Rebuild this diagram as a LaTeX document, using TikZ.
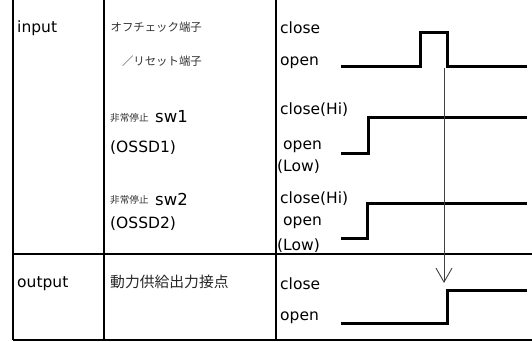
\documentclass[tikz,border=0pt]{standalone}
\usepackage{fontspec}
\setmainfont{DejaVu Sans}
\newfontfamily\jp{Noto Sans CJK JP}
\usetikzlibrary{arrows.meta}
\begin{document}
\begin{tikzpicture}[x=1pt,y=-1pt,
  grid/.style={line width=1.6pt},
  sig/.style={line width=3pt,line cap=rect,line join=miter},
  lbl/.style={anchor=west,inner sep=0pt,font=\fontsize{15.5}{17}\selectfont},
  jps/.style={anchor=west,inner sep=0pt,text=black!80,font=\jp\fontsize{11.4}{13}\selectfont},
  jpm/.style={anchor=west,inner sep=0pt,text=black!80,font=\jp\fontsize{9.6}{11}\selectfont},
  jpl/.style={anchor=west,inner sep=0pt,text=black!85,font=\jp\fontsize{14.8}{16}\selectfont},
  trig/.style={line width=0.9pt,draw=black!75,-{Straight Barb[length=14pt,width=16pt,line width=0.9pt]}}]
\useasboundingbox (0,0) rectangle (532,342);
% table lines
\draw[grid] (13,0) -- (13,340);
\draw[grid] (104,0) -- (104,340);
\draw[grid] (276,0) -- (276,340);
\draw[grid] (13,254) -- (532,254);
\draw[grid] (13,340) -- (532,340);
% left column
\node[lbl] (in) at (17,28) {input};
\node[lbl] (out) at (17,284) {output};
% middle column
\node[jps,anchor=east] (t1) at (202,27) {オフチェック端子};
\node[jps,anchor=east] (t2) at (202,61) {／リセット端子};
\node[jpm] (s1j) at (110,118) {非常停止};
\node[lbl,font=\fontsize{16.5}{18}\selectfont] (s1) at (155,117) {sw1};
\node[lbl] (o1) at (110,148) {(OSSD1)};
\node[jpm] (s2j) at (110,200) {非常停止};
\node[lbl,font=\fontsize{16.5}{18}\selectfont] (s2) at (155,199) {sw2};
\node[lbl] (o2) at (110,224) {(OSSD2)};
\node[jpl] (pw) at (110,282) {動力供給出力接点};
% right column labels
\node[lbl] (c1) at (280,28) {close};
\node[lbl] (p1) at (280,63) {open};
\node[lbl] (c2) at (280,110) {close(Hi)};
\node[lbl] (p2) at (283,147) {open};
\node[lbl] (l2) at (277,167) {(Low)};
\node[lbl] (c3) at (280,199) {close(Hi)};
\node[lbl] (p3) at (283,223) {open};
\node[lbl] (l3) at (277,246) {(Low)};
\node[lbl] (c4) at (280,284) {close};
\node[lbl] (p4) at (280,318) {open};
% waveforms
\draw[sig] (342,67) -- (420,67) -- (420,33) -- (447,33) -- (447,67) -- (525,67);
\draw[sig] (342,153) -- (368,153) -- (368,117) -- (525,117);
\draw[sig] (342,238) -- (367,238) -- (367,203) -- (525,203);
\draw[sig] (342,323) -- (447,323) -- (447,290) -- (525,290);
% trigger arrow
\coordinate (fall) at (444,68);
\coordinate (tip) at (444,283);
\draw[trig] (fall) -- (tip);
\end{tikzpicture}
\end{document}
